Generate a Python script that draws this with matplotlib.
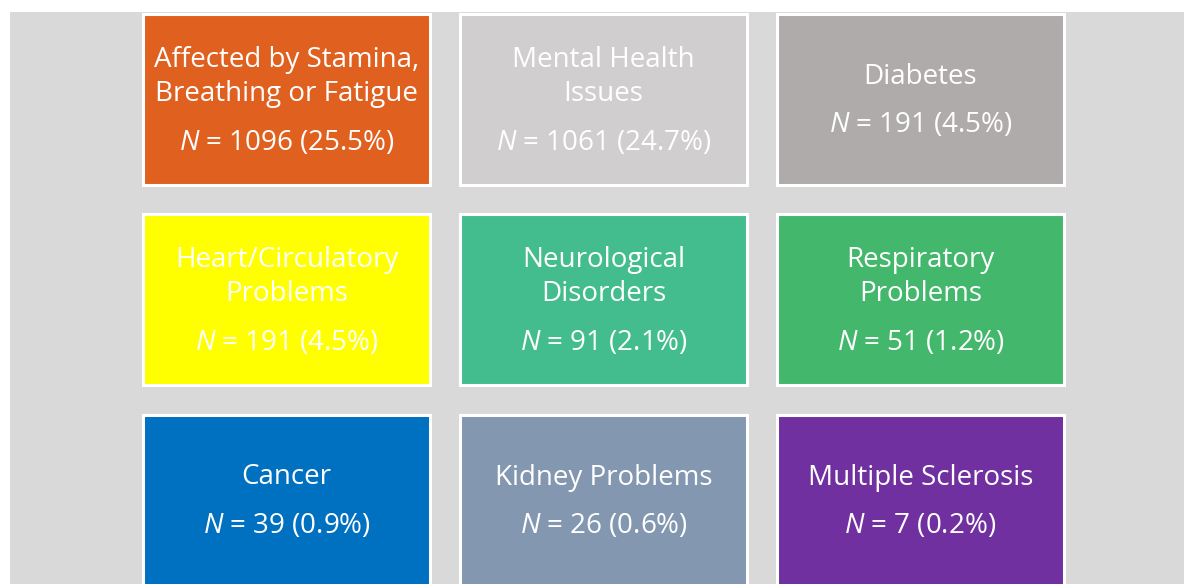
import matplotlib
matplotlib.use("Agg")
import matplotlib.pyplot as plt
from matplotlib.patches import Rectangle

# data
titles = ["Affected by Stamina,\nBreathing or Fatigue", "Mental Health\nIssues", "Diabetes",
          "Heart/Circulatory\nProblems", "Neurological\nDisorders", "Respiratory\nProblems",
          "Cancer", "Kidney Problems", "Multiple Sclerosis"]
counts = [1096, 1061, 191, 191, 91, 51, 39, 26, 7]
percents = [25.5, 24.7, 4.5, 4.5, 2.1, 1.2, 0.9, 0.6, 0.2]
colors = ["#E0601F", "#D0CECE", "#AFABAB", "#FFFF00", "#44BD8E", "#43B86C",
          "#0070C0", "#8497B0", "#7030A0"]

plt.rcParams['font.family'] = ['Open Sans', 'DejaVu Sans']
plt.rcParams['mathtext.fontset'] = 'custom'
plt.rcParams['mathtext.it'] = 'Open Sans:italic'
plt.rcParams['mathtext.rm'] = 'Open Sans'

fig = plt.figure(figsize=(11.84, 5.84), dpi=100)
ax = fig.add_axes([0, 0, 1, 1])
ax.set_xlim(0, 1184)
ax.set_ylim(584, 0)
ax.axis('off')

# grey panel behind the boxes
ax.add_patch(Rectangle((10, 12), 1180, 580, color="#D9D9D9", lw=0))

col_x = [143, 460, 777]
row_y = [14, 214, 415]
w, h = 287, 171

for i, (t, n, p, c) in enumerate(zip(titles, counts, percents, colors)):
    x = col_x[i % 3]
    y = row_y[i // 3]
    ax.add_patch(Rectangle((x, y), w, h, facecolor=c, edgecolor="white", lw=2.2))
    cx = x + w / 2
    nlines = t.count("\n") + 1
    if nlines == 2:
        ty, ny = y + 63, y + 129
    else:
        ty, ny = y + 62.5, y + 111
    ax.text(cx, ty, t, ha='center', va='center', color='white', fontsize=20,
            linespacing=1.31)
    ax.text(cx, ny, f"$N$ = {n} ({p}%)", ha='center', va='center', color='white',
            fontsize=20)

fig.savefig("out.png", dpi=100)
